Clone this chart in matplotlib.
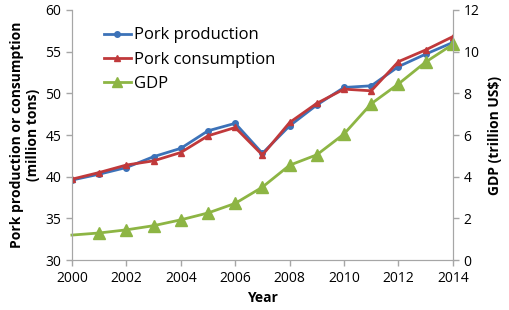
import matplotlib
matplotlib.use("Agg")
import matplotlib.pyplot as plt

years = [2000, 2001, 2002, 2003, 2004, 2005, 2006, 2007, 2008, 2009, 2010, 2011, 2012, 2013, 2014]
pork_production = [39.6, 40.3, 41.1, 42.4, 43.4, 45.5, 46.4, 42.8, 46.1, 48.6, 50.7, 50.9, 53.2, 54.7, 56.1]
pork_consumption = [39.7, 40.5, 41.4, 41.9, 42.9, 44.9, 45.9, 42.6, 46.5, 48.8, 50.5, 50.3, 53.8, 55.2, 56.8]
gdp = [1.2, 1.3, 1.45, 1.65, 1.93, 2.26, 2.72, 3.5, 4.55, 5.05, 6.05, 7.5, 8.45, 9.5, 10.35]

plt.rcParams['font.family'] = ['Open Sans', 'DejaVu Sans']
gray = '#A6A6A6'
blue = '#3C72B8'
red = '#C0393B'
green = '#8DB544'

fig = plt.figure(figsize=(5.1, 3.1), dpi=100)
ax = fig.add_axes([0.141, 0.161, 0.747, 0.807])
ax2 = ax.twinx()

l1, = ax.plot(years, pork_production, color=blue, lw=2, marker='o', ms=4, label='Pork production', zorder=3)
l2, = ax.plot(years, pork_consumption, color=red, lw=2, marker='^', ms=5, label='Pork consumption', zorder=4)
l3, = ax2.plot(years, gdp, color=green, lw=2, marker='^', ms=9, markevery=list(range(1, len(years))), label='GDP', clip_on=False)

ax.set_xlim(2000, 2014)
ax.set_ylim(30, 60)
ax2.set_ylim(0, 12)
ax.set_xticks(range(2000, 2015, 2))
ax.set_yticks(range(30, 61, 5))
ax2.set_yticks(range(0, 13, 2))

for a in (ax, ax2):
    a.spines['top'].set_visible(False)
    for s in ('left', 'right', 'bottom'):
        a.spines[s].set_color(gray)
    a.tick_params(colors=gray, labelcolor='black', labelsize=10, length=4, width=1)

ax.set_xlabel('Year', fontweight='bold', fontsize=10, labelpad=4)
ax.set_ylabel('Pork production or consumption\n(million tons)', fontweight='bold', fontsize=10, labelpad=4)
ax2.set_ylabel('GDP (trillion US$)', fontweight='bold', fontsize=10, labelpad=6)

leg = ax.legend(handles=[l1, l2, l3], loc='upper left', bbox_to_anchor=(0.045, 0.99), frameon=False,
                fontsize=12, handlelength=1.6, handletextpad=0.2, labelspacing=0.5)
for h, ms in zip(leg.legend_handles, [4, 5, 7]):
    h.set_markersize(ms)

fig.savefig('out.png', dpi=100)
